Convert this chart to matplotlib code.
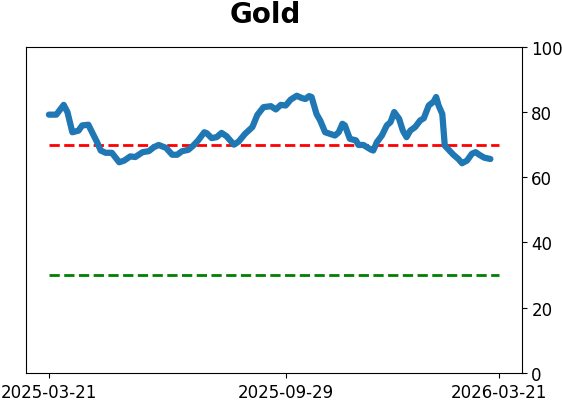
import matplotlib
matplotlib.use("Agg")
import matplotlib.pyplot as plt
import pandas as pd

title = "Gold"
dates = [
    "2025-03-21", "2025-03-27", "2025-04-02", "2025-04-05", "2025-04-09", "2025-04-14",
    "2025-04-17", "2025-04-22", "2025-04-25", "2025-04-29", "2025-05-02", "2025-05-06",
    "2025-05-11", "2025-05-17", "2025-05-21", "2025-05-26", "2025-05-30", "2025-06-05",
    "2025-06-10", "2025-06-14", "2025-06-18", "2025-06-24", "2025-06-29", "2025-07-03",
    "2025-07-07", "2025-07-12", "2025-07-16", "2025-07-20", "2025-07-25", "2025-07-27",
    "2025-07-31", "2025-08-04", "2025-08-08", "2025-08-12", "2025-08-18", "2025-08-22",
    "2025-08-27", "2025-09-02", "2025-09-06", "2025-09-11", "2025-09-17", "2025-09-21",
    "2025-09-25", "2025-09-29", "2025-10-03", "2025-10-08", "2025-10-12", "2025-10-15",
    "2025-10-18", "2025-10-20", "2025-10-24", "2025-10-27", "2025-10-31", "2025-11-04",
    "2025-11-08", "2025-11-11", "2025-11-14", "2025-11-16", "2025-11-20", "2025-11-25",
    "2025-11-27", "2025-12-01", "2025-12-07", "2025-12-09", "2025-12-12", "2025-12-16",
    "2025-12-20", "2025-12-23", "2025-12-26", "2025-12-30", "2026-01-02", "2026-01-05",
    "2026-01-08", "2026-01-12", "2026-01-16", "2026-01-19", "2026-01-23", "2026-01-27",
    "2026-01-29", "2026-01-31", "2026-02-03", "2026-02-05", "2026-02-08", "2026-02-12",
    "2026-02-16", "2026-02-19", "2026-02-23", "2026-02-27", "2026-03-02", "2026-03-05",
    "2026-03-09", "2026-03-14",
]
values = [
    79.2, 79.2, 82.2, 80.0, 73.8, 74.3,
    75.9, 76.1, 73.8, 70.8, 68.2, 67.5,
    67.5, 64.6, 65.1, 66.4, 66.2, 67.7,
    68.0, 69.2, 69.9, 69.0, 66.9, 66.9,
    68.0, 68.4, 69.7, 71.3, 73.8, 73.5,
    72.0, 72.3, 73.6, 72.6, 70.0, 71.0,
    73.3, 75.4, 79.1, 81.5, 81.8, 80.8,
    82.2, 82.0, 83.8, 85.0, 84.3, 84.0,
    84.9, 84.6, 79.4, 77.4, 73.8, 73.3,
    72.8, 73.8, 76.4, 75.9, 71.8, 71.3,
    69.9, 69.9, 68.5, 68.2, 70.8, 72.8,
    75.9, 76.9, 80.0, 77.9, 74.3, 72.3,
    74.3, 75.4, 77.4, 78.1, 82.0, 83.2,
    84.6, 82.0, 79.4, 69.7, 68.5, 66.9,
    65.6, 64.3, 65.1, 67.2, 67.7, 66.9,
    66.0, 65.6,
]
upper_level = 70
lower_level = 30
tick_dates = ["2025-03-21", "2025-09-29", "2026-03-21"]
y_ticks = [0, 20, 40, 60, 80, 100]

x = pd.to_datetime(dates)
ticks = pd.to_datetime(tick_dates)

fig = plt.figure(figsize=(5.62, 4.02), dpi=100)
ax = fig.add_axes([0.047, 0.070, 0.881, 0.811])

ax.plot(x, values, color="#1f77b4", linewidth=4.5, solid_capstyle="round", zorder=3)
ax.plot([ticks[0], ticks[-1]], [upper_level, upper_level], color="red",
        linestyle="--", linewidth=2, zorder=2)
ax.plot([ticks[0], ticks[-1]], [lower_level, lower_level], color="green",
        linestyle="--", linewidth=2, zorder=2)

ax.set_ylim(0, 100)
ax.set_yticks(y_ticks)
ax.yaxis.tick_right()
ax.set_xticks(ticks)
ax.set_xticklabels(tick_dates)
ax.tick_params(labelsize=12)
fig.text(265 / 562, 1 - 22.7 / 402, title, fontsize=20, fontweight="bold",
         ha="center", va="baseline")

fig.savefig("out.png", dpi=100)
